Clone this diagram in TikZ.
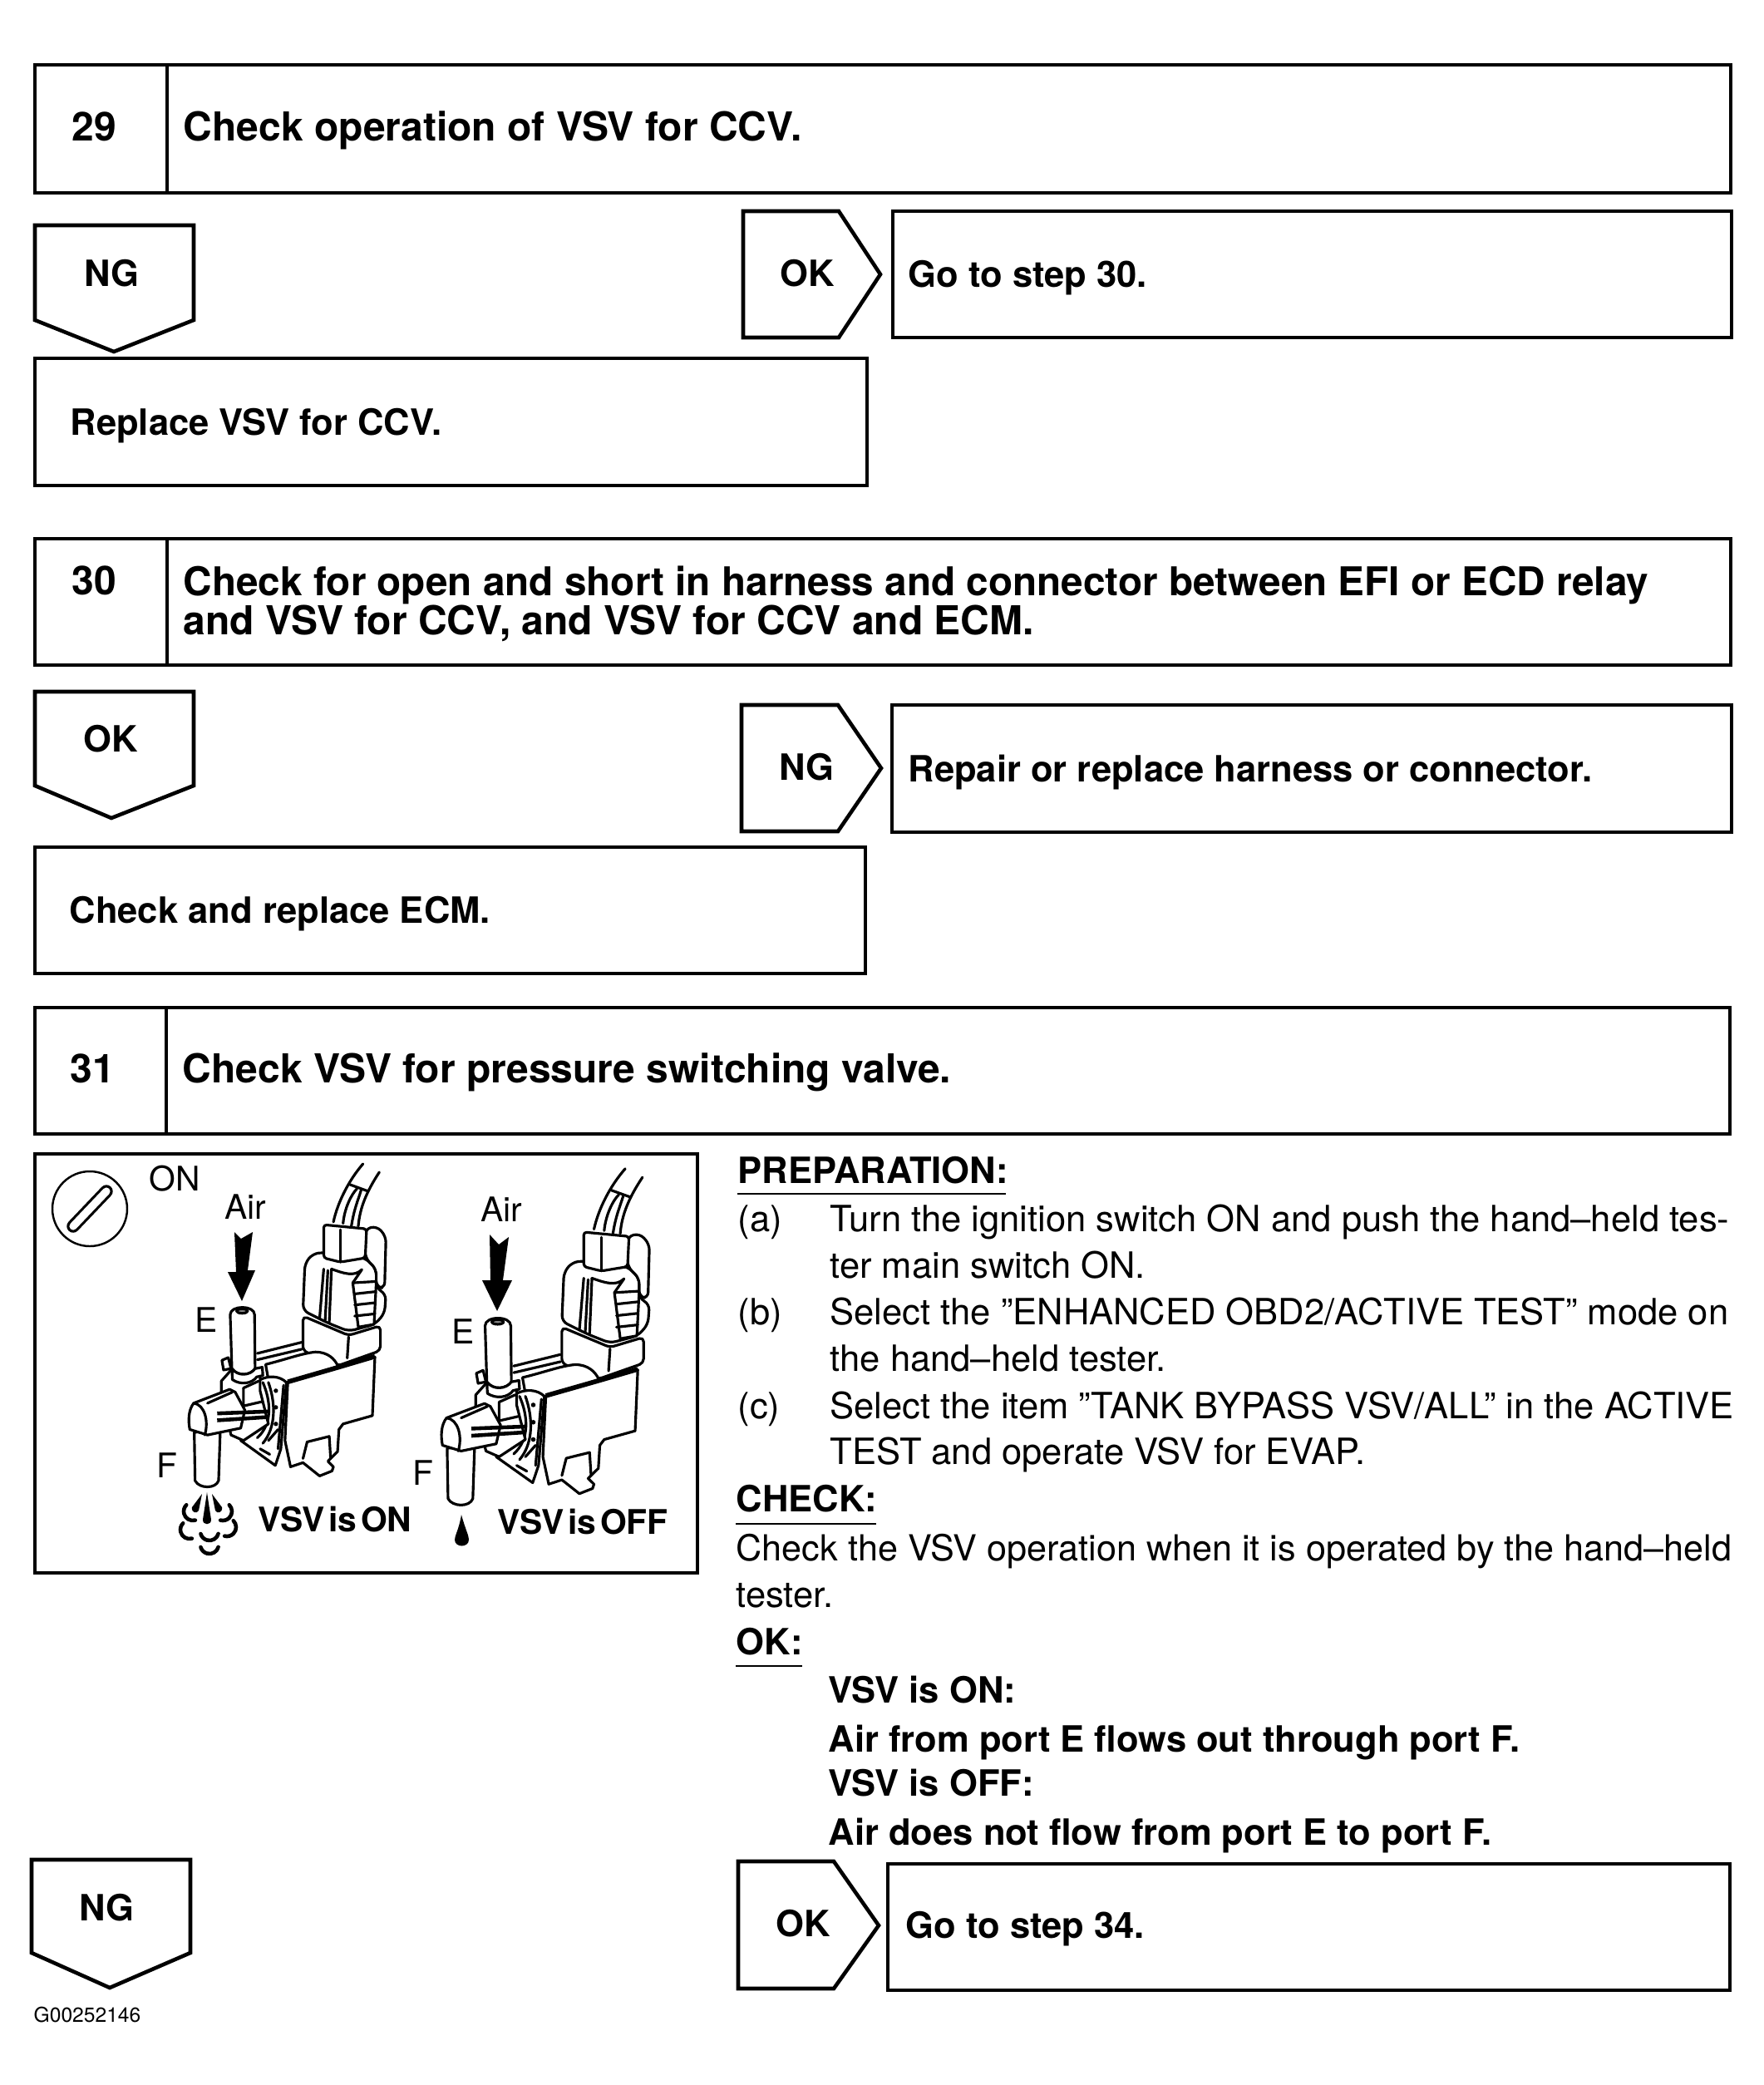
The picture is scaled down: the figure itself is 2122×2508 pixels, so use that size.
\documentclass[tikz,border=0pt]{standalone}
\usepackage{fontspec}
\setmainfont{TeX Gyre Heros}
\usepackage{tikz}

\newcommand{\headfont}{\fontsize{13.65}{16}\selectfont\bfseries}
\newcommand{\actfont}{\fontsize{12.38}{15}\selectfont\bfseries}
\newcommand{\bodyfont}{\fontsize{12.38}{15}\selectfont}
\newcommand{\markfont}{\fontsize{11.6}{14}\selectfont}
\newcommand{\tightwords}[1]{\spaceskip=.12em\relax #1}

\tikzset{
  boxline/.style={line width=1.3pt, line join=miter},
  headtext/.style={anchor=base west, inner sep=0pt, font=\headfont},
  acttext/.style={anchor=base west, inner sep=0pt, font=\actfont},
  tagtext/.style={inner sep=0pt, font=\actfont},
  bodytext/.style={anchor=base west, inner sep=0pt, font=\bodyfont},
  marktext/.style={inner sep=0pt, font=\markfont},
  statetext/.style={anchor=base west, inner sep=0pt, font=\markfont\bfseries},
  valveline/.style={line width=.9pt, line join=round, line cap=round},
}

% VSV drawing, local coordinates
\newcommand{\vsvvalve}{
  % wires
  \draw[valveline] (1115,270) .. controls (1130,200) and (1170,120) .. (1222,60);
  \draw[valveline] (1150,275) .. controls (1155,220) and (1180,170) .. (1200,150);
  \draw[valveline] (1180,285) .. controls (1190,220) and (1205,190) .. (1215,155);
  \draw[valveline] (1205,285) .. controls (1210,220) and (1235,160) .. (1281,90);
  \draw[valveline] (1175,135) -- (1238,158);
  % air tubes behind
  \draw[valveline] (840,745) -- (1000,705);
  \draw[valveline] (840,768) -- (1000,730);
  % base block
  \draw[valveline, fill=white, rounded corners=1.5pt] (1005,610) -- (1005,735) -- (1130,790) -- (1285,735) -- (1285,645) -- (1170,680) -- cycle;
  \draw[valveline] (1170,685) -- (1165,762);
  % connector body
  \draw[valveline, fill=white, rounded corners=2pt] (1080,380) -- (1040,385) -- (1012,420) -- (1005,590) -- (1095,635) -- (1170,665) -- (1265,640) -- (1300,600) -- (1305,530) -- (1270,510) -- (1270,440) -- (1230,400) -- cycle;
  \draw[valveline] (1080,440) -- (1065,620);
  \draw[valveline] (1095,445) -- (1085,628);
  \draw[valveline] (1108,440) -- (1100,632);
  \draw[valveline] (1108,440) .. controls (1150,455) and (1190,470) .. (1218,442) -- (1185,490);
  % latch
  \draw[valveline, fill=white] (1185,490) -- (1270,485) -- (1262,640) -- (1205,650) -- cycle;
  \foreach \ribY in {530,570,610} {
    \draw[valveline] (1192,\ribY) -- (1265,\ribY-8);
  }
  % plug
  \draw[valveline, fill=white, rounded corners=2pt] (1230,295) -- (1272,285) -- (1305,322) -- (1300,510) -- (1270,505) -- (1270,440) -- (1230,400) -- cycle;
  \draw[valveline, fill=white, rounded corners=1pt] (1080,280) -- (1235,295) -- (1230,400) -- (1140,415) -- (1080,400) -- cycle;
  \draw[valveline] (1140,298) -- (1140,415);
  % box with its top edge
  \draw[valveline, fill=white] (870,785) .. controls (950,765) and (1000,745) .. (1050,740) .. controls (1095,740) and (1120,765) .. (1132,792) -- (950,850) -- (880,840) -- cycle;
  \draw[valveline, fill=white] (950,850) -- (1265,758) -- (1256,970) -- (1150,1000) -- (1135,1020) -- (1130,1100) -- (1095,1135) -- (1115,1155) -- (1110,1170) -- (1065,1188) -- (1005,1140) -- (960,1155) -- (940,1060) -- cycle;
  \draw[line width=1.6pt] (950,848) -- (1130,796) -- (1265,756);
  % bracket
  \draw[valveline] (1100,1045) -- (1020,1065) -- (1005,1125);
  \draw[valveline] (1100,1045) -- (1105,1125);
  % flange
  \draw[valveline, fill=white] (850,840) .. controls (880,825) and (920,825) .. (945,850) -- (925,1090) -- (905,1150) -- (780,1060) -- cycle;
  \draw[valveline] (860,850) .. controls (890,920) and (895,1000) .. (840,1050);
  \draw[valveline] (880,850) .. controls (905,920) and (910,1010) .. (860,1070);
  \draw[valveline] (935,860) -- (915,1090);
  \foreach \dotY in {880,940,1000} {
    \fill (907,\dotY) circle[radius=8];
  }
  \draw[valveline] (880,1060) -- (915,1020);
  \draw[valveline] (850,1090) -- (885,1110);
  % block under port E
  \draw[valveline, fill=white] (710,845) -- (710,900) -- (745,1040) -- (790,1060) -- (880,1000) -- (850,880) -- (850,810) -- (750,800) -- cycle;
  \draw[valveline] (790,870) -- (790,935) -- (855,920);
  \draw[valveline] (790,870) -- (845,845);
  \draw[valveline, fill=white] (712,770) -- (735,760) -- (745,800) -- (718,805) -- cycle;
  % port E
  \draw[valveline, fill=white] (742,605) -- (748,800) .. controls (770,830) and (815,825) .. (832,800) -- (830,605) .. controls (830,570) and (742,570) .. (742,605) -- cycle;
  \draw[valveline, fill=black!45] (785,592) ellipse[x radius=20, y radius=8];
  \draw[valveline, fill=white] (748,800) -- (750,840) .. controls (780,860) and (820,855) .. (838,830) -- (860,825) -- (858,795) -- (832,800) .. controls (815,825) and (770,830) .. (748,800) -- cycle;
  % port F
  \draw[valveline, fill=white] (612,1030) -- (615,1205) .. controls (630,1235) and (690,1235) .. (700,1205) -- (706,1025) -- cycle;
  \draw[valveline, fill=white] (610,925) -- (740,875) -- (760,885) -- (795,950) -- (780,1015) -- (660,1040) -- (596,1020) .. controls (590,990) and (590,950) .. (610,925) -- cycle;
  \draw[valveline] (610,925) .. controls (650,930) and (665,990) .. (650,1040);
  \draw[line width=1.3pt] (695,962) -- (880,955);
  \draw[line width=1.3pt] (695,987) -- (880,975);
  \draw[valveline] (660,925) -- (750,885);
}

\begin{document}
\begin{tikzpicture}[x=0.01cm, y=-0.01cm]
\useasboundingbox (0,0) rectangle (2122,2508);

% Step 29
\draw[boxline] (42,78) rectangle (2082,232);
\draw[boxline] (201,78) -- (201,232);
\node[headtext] (numA) at (86,169) {29};
\node[headtext] (headA) at (220,169) {Check operation of VSV for CCV.};
\draw[boxline] (42,271) -- (233,271) -- (233,385) -- (137,423) -- (42,385) -- cycle;
\node[tagtext] (tagAng) at (134,329) {NG};
\draw[boxline] (894,254) -- (1009,254) -- (1059,330) -- (1009,406) -- (894,406) -- cycle;
\node[tagtext] (tagAok) at (971,329) {OK};
\draw[boxline] (1074,254) rectangle (2083,406);
\node[acttext] (goA) at (1092,345) {Go to step 30.};
\draw[boxline] (42,431) rectangle (1043,584);
\node[acttext] (fixA) at (84,523) {Replace VSV for CCV.};

% Step 30
\draw[boxline] (42,648) rectangle (2082,800);
\draw[boxline] (201,648) -- (201,800);
\node[headtext] (numB) at (86,715) {30};
\node[headtext, font=\fontsize{13.57}{16}\selectfont\bfseries] (headB) at (220,716) {Check for open and short in harness and connector between EFI or ECD relay};
\node[headtext] (headBb) at (220,763) {and VSV for CCV, and VSV for CCV and ECM.};
\draw[boxline] (42,832) -- (233,832) -- (233,945) -- (134,984) -- (42,945) -- cycle;
\node[tagtext] (tagBok) at (133,889) {OK};
\draw[boxline] (892,848) -- (1008,848) -- (1060,924) -- (1008,1000) -- (892,1000) -- cycle;
\node[tagtext] (tagBng) at (970,923) {NG};
\draw[boxline] (1073,848) rectangle (2083,1001);
\node[acttext] (fixBb) at (1092,940) {Repair or replace harness or connector.};
\draw[boxline] (42,1019) rectangle (1041,1171);
\node[acttext] (fixB) at (83,1110) {Check and replace ECM.};

% Step 31
\draw[boxline] (42,1212) rectangle (2081,1364);
\draw[boxline] (200,1212) -- (200,1364);
\node[headtext] (numC) at (84,1302) {31};
\node[headtext] (headC) at (219,1302) {Check VSV for pressure switching valve.};

% Illustration
\draw[boxline] (42,1388) rectangle (839,1892);
\draw[line width=.7pt] (108,1454) circle[radius=45];
\draw[line width=.9pt, double=white, double distance=2.6pt, line cap=round] (88,1475) -- (128,1433);
\node[marktext] (keyOn) at (210,1418) {ON};
\begin{scope}[shift={(30,1380)}, x=0.003333cm, y=-0.003333cm]
\vsvvalve
\end{scope}
\begin{scope}[shift={(323,1385)}, x=0.003517cm, y=-0.003467cm]
\vsvvalve
\end{scope}

% Air arrows
\fill (282,1482) -- (290,1490) -- (304,1482) -- (298,1528) -- (307,1528) -- (291,1565) -- (274,1530) -- (284,1530) -- cycle;
\fill (589,1485) -- (600,1497) -- (612,1488) -- (605,1540) -- (616,1540) -- (598,1577) -- (580,1540) -- (590,1540) -- cycle;
\node[marktext] (airOn) at (295,1452) {Air};
\node[marktext] (airOff) at (603,1455) {Air};
\node[marktext] (portEon) at (248,1588) {E};
\node[marktext] (portEoff) at (557,1602) {E};
\node[marktext] (portFon) at (201,1763) {F};
\node[marktext] (portFoff) at (509,1772) {F};

% Spray at port F
\fill (249,1795) -- (254,1828) .. controls (254,1835) and (244,1835) .. (244,1828) -- cycle;
\fill (243,1797) -- (231,1813) .. controls (230,1820) and (237,1821) .. (239,1817) -- cycle;
\fill (255,1797) -- (267,1813) .. controls (268,1820) and (261,1821) .. (259,1817) -- cycle;
\foreach \sprayX/\sprayY/\sprayA in {232/1818/150, 268/1818/30, 228/1840/150, 273/1837/30, 252/1842/90, 252/1858/90} {
  \draw[line width=1.3pt, line cap=round] (\sprayX,\sprayY) ++(\sprayA-75:11) arc[start angle=\sprayA-75, delta angle=150, radius=11];
}
\fill (555,1822) .. controls (560,1840) and (564,1847) .. (564,1852) .. controls (564,1862) and (547,1862) .. (547,1852) .. controls (547,1847) and (552,1840) .. (555,1822) -- cycle;
\node[statetext] (stateOn) at (310,1842) {\tightwords{VSV is ON}};
\node[statetext] (stateOff) at (598,1845) {\tightwords{VSV is OFF}};

% Text column
\node[acttext] (prep) at (887,1423) {PREPARATION:};
\draw[line width=.8pt] (887,1436) -- (1210,1436);
\node[bodytext] (itemA) at (887,1481) {(a)};
\node[bodytext] (lineAa) at (998,1481) {Turn the ignition switch ON and push the hand–held tes-};
\node[bodytext] (lineAb) at (998,1537) {ter main switch ON.};
\node[bodytext] (itemB) at (887,1593) {(b)};
\node[bodytext] (lineBa) at (998,1593) {Select the ”ENHANCED OBD2/ACTIVE TEST” mode on};
\node[bodytext] (lineBb) at (998,1649) {the hand–held tester.};
\node[bodytext] (itemC) at (887,1706) {(c)};
\node[bodytext] (lineCa) at (998,1706) {Select the item ”TANK BYPASS VSV/ALL” in the ACTIVE};
\node[bodytext] (lineCb) at (998,1761) {TEST and operate VSV for EVAP.};
\node[acttext] (check) at (885,1818) {CHECK:};
\draw[line width=.8pt] (885,1833) -- (1054,1833);
\node[bodytext, font=\fontsize{12.28}{15}\selectfont] (lineDa) at (885,1877) {Check the VSV operation when it is operated by the hand–held};
\node[bodytext] (lineDb) at (885,1933) {tester.};
\node[acttext] (okay) at (885,1990) {OK:};
\draw[line width=.8pt] (885,2004) -- (965,2004);
\node[acttext] (resA) at (996,2048) {VSV is ON:};
\node[acttext] (resAb) at (996,2107) {Air from port E flows out through port F.};
\node[acttext] (resB) at (996,2160) {VSV is OFF:};
\node[acttext] (resBb) at (996,2219) {Air does not flow from port E to port F.};

% Bottom tags
\draw[boxline] (38,2237) -- (229,2237) -- (229,2349) -- (132,2391) -- (38,2349) -- cycle;
\node[tagtext] (tagCng) at (128,2295) {NG};
\draw[boxline] (888,2239) -- (1003,2239) -- (1057,2316) -- (1003,2392) -- (888,2392) -- cycle;
\node[tagtext] (tagCok) at (966,2314) {OK};
\draw[boxline] (1068,2242) rectangle (2081,2394);
\node[acttext] (goC) at (1089,2331) {Go to step 34.};
\node[anchor=base west, inner sep=0pt, font=\fontsize{7}{8}\selectfont] (figId) at (40,2432) {G00252146};

\end{tikzpicture}
\end{document}
